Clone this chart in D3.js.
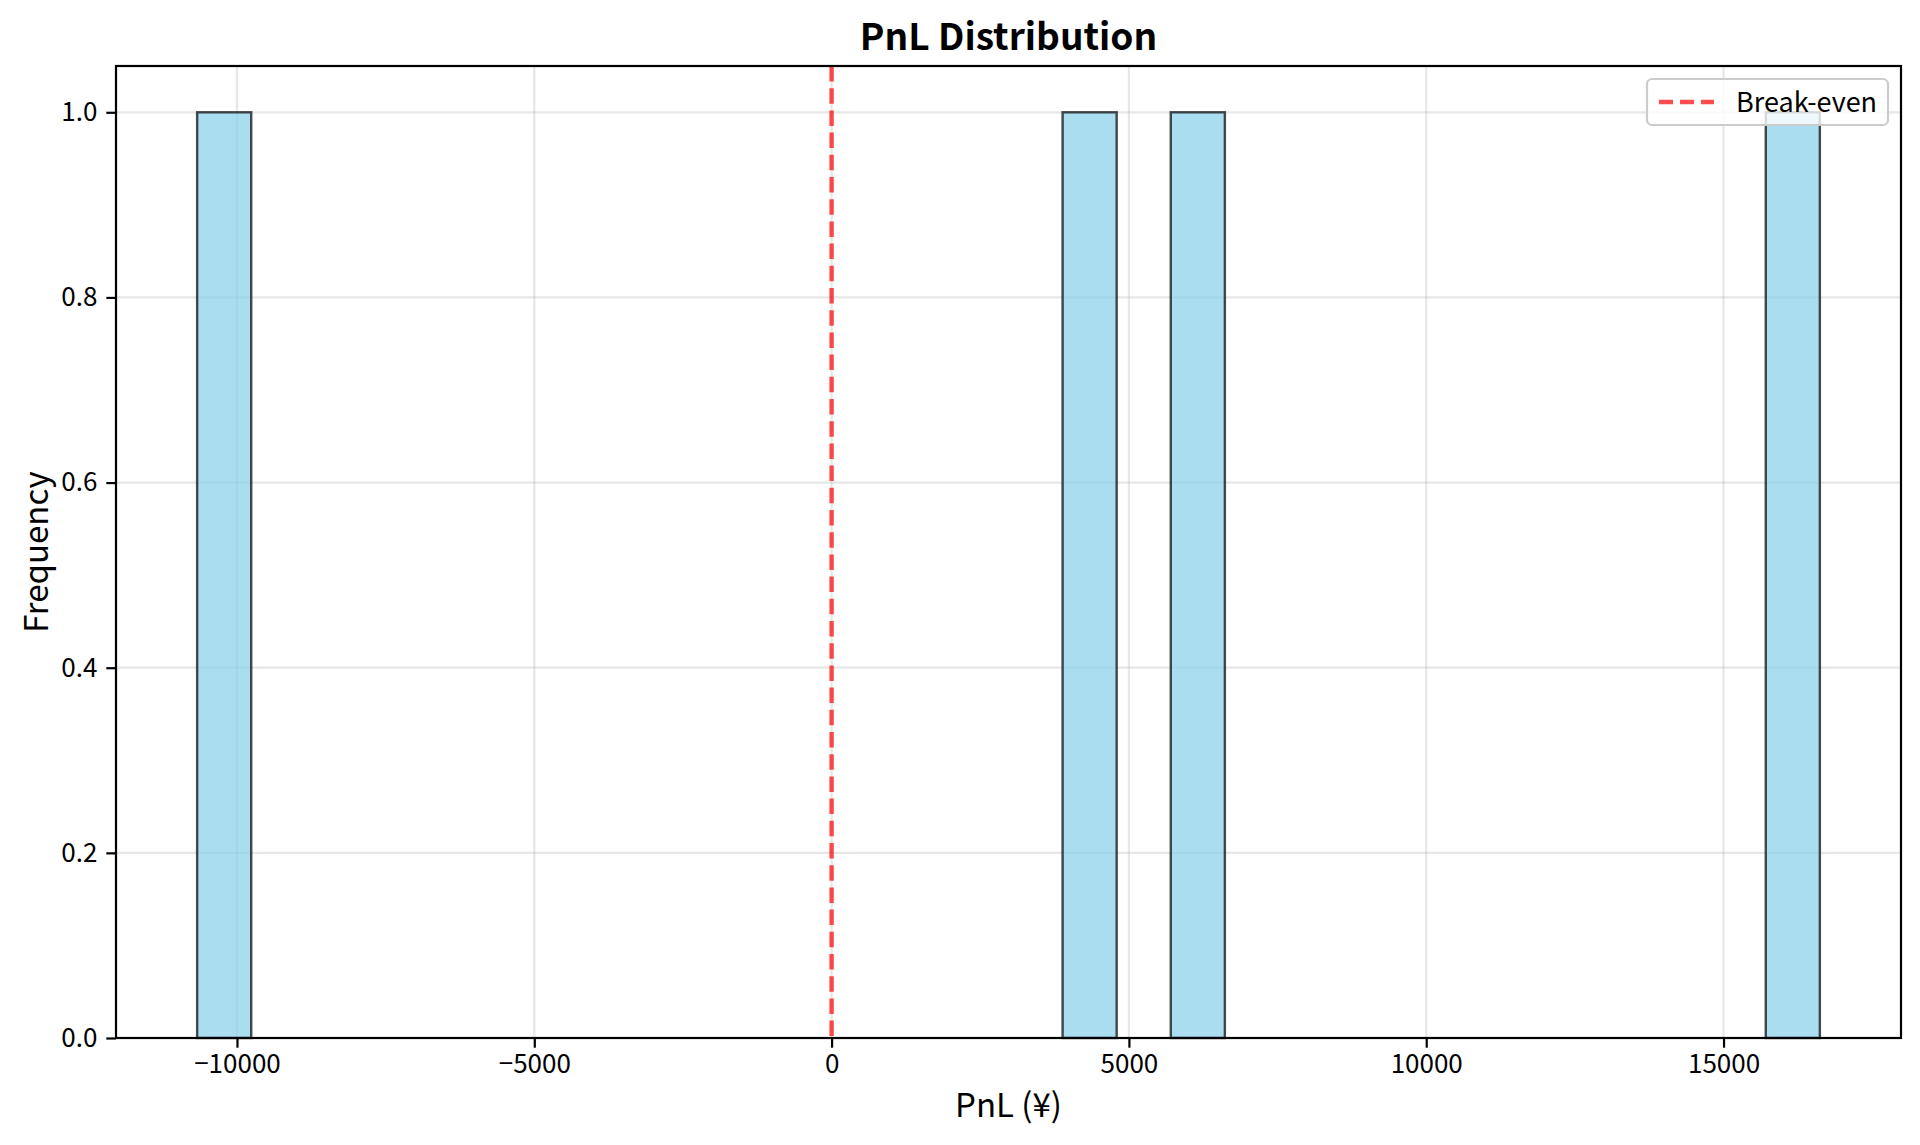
<!DOCTYPE html>
<html>
<head>
<meta charset="utf-8">
<script src="https://cdn.jsdelivr.net/npm/d3@7"></script>
<style>
  html, body { margin: 0; padding: 0; background: #fff; }
  svg { display: block; font-family: "Noto Sans CJK JP", "Noto Sans", sans-serif; }
</style>
</head>
<body>
<svg id="chart" width="1920" height="1145"></svg>
<script>
// ---- data ----
const pnlValues = [-10670, 4350, 6150, 16620];   // individual trade PnL (¥)
const binCount = 30;
const xTickValues = [-10000, -5000, 0, 5000, 10000, 15000];
const xTickLabels = ["\u221210000", "\u22125000", "0", "5000", "10000", "15000"];
const yTickValues = [0.0, 0.2, 0.4, 0.6, 0.8, 1.0];
const yTickLabels = ["0.0", "0.2", "0.4", "0.6", "0.8", "1.0"];
const breakEven = 0;
const titleText = "PnL Distribution";
const xLabelText = "PnL (\u00A5)";
const yLabelText = "Frequency";
const legendLabel = "Break-even";

// ---- layout ----
const plot = { left: 116, right: 1901, top: 66, bottom: 1038 };

const svg = d3.select("#chart");

const [mn, mx] = d3.extent(pnlValues);
const span = mx - mn;
const step = span / binCount;
const thresholds = d3.range(1, binCount).map(i => mn + i * step);
const bins = d3.bin().domain([mn, mx]).thresholds(thresholds)(pnlValues);

const x = d3.scaleLinear()
  .domain([mn - 0.05 * span, mx + 0.05 * span])
  .range([plot.left, plot.right]);
const maxCount = d3.max(bins, b => b.length);
const y = d3.scaleLinear()
  .domain([0, maxCount * 1.05])
  .range([plot.bottom, plot.top]);

// grid
const grid = svg.append("g").attr("stroke", "#b0b0b0").attr("stroke-opacity", 0.3).attr("stroke-width", 2.2);
grid.selectAll("line.vx").data(xTickValues).join("line")
  .attr("x1", d => x(d)).attr("x2", d => x(d))
  .attr("y1", plot.top).attr("y2", plot.bottom);
grid.selectAll("line.hy").data(yTickValues).join("line")
  .attr("x1", plot.left).attr("x2", plot.right)
  .attr("y1", d => y(d)).attr("y2", d => y(d));

// bars
svg.append("g").selectAll("rect").data(bins.filter(b => b.length > 0)).join("rect")
  .attr("x", b => x(b.x0))
  .attr("width", b => x(b.x1) - x(b.x0))
  .attr("y", b => y(b.length))
  .attr("height", b => y(0) - y(b.length))
  .attr("fill", "#87CEEB").attr("fill-opacity", 0.7)
  .attr("stroke", "#000").attr("stroke-opacity", 0.7).attr("stroke-width", 2.4);

// break-even line
svg.append("line")
  .attr("x1", x(breakEven)).attr("x2", x(breakEven))
  .attr("y1", plot.top).attr("y2", plot.bottom)
  .attr("stroke", "#ff0000").attr("stroke-opacity", 0.7)
  .attr("stroke-width", 4.4).attr("stroke-dasharray", "15.5,6.7");

// axes
const xAxis = d3.axisBottom(x).tickValues(xTickValues)
  .tickFormat((d, i) => xTickLabels[i]).tickSize(9.7).tickPadding(7);
const yAxis = d3.axisLeft(y).tickValues(yTickValues)
  .tickFormat((d, i) => yTickLabels[i]).tickSize(9.7).tickPadding(9);

const gx = svg.append("g").attr("transform", `translate(0,${plot.bottom})`).call(xAxis);
const gy = svg.append("g").attr("transform", `translate(${plot.left},0)`).call(yAxis);
[gx, gy].forEach(g => {
  g.select(".domain").remove();
  g.selectAll(".tick line").attr("stroke", "#000").attr("stroke-width", 2.2);
  g.selectAll(".tick text").attr("fill", "#000").attr("font-size", 26)
    .attr("font-family", "'Noto Sans CJK JP', sans-serif");
});

// frame
svg.append("rect")
  .attr("x", plot.left).attr("y", plot.top)
  .attr("width", plot.right - plot.left).attr("height", plot.bottom - plot.top)
  .attr("fill", "none").attr("stroke", "#000").attr("stroke-width", 2.2);

// legend
const lg = svg.append("g");
lg.append("rect")
  .attr("x", 1647).attr("y", 79).attr("width", 241).attr("height", 46)
  .attr("rx", 5).attr("ry", 5)
  .attr("fill", "#fff").attr("fill-opacity", 0.8)
  .attr("stroke", "#cccccc").attr("stroke-width", 2.2);
lg.append("line")
  .attr("x1", 1659).attr("x2", 1714).attr("y1", 102).attr("y2", 102)
  .attr("stroke", "#ff0000").attr("stroke-opacity", 0.7)
  .attr("stroke-width", 4.4).attr("stroke-dasharray", "14,7");
lg.append("text")
  .attr("x", 1736).attr("y", 112)
  .attr("font-size", 27).attr("fill", "#000")
  .text(legendLabel);

// title & labels
svg.append("text")
  .attr("x", (plot.left + plot.right) / 2).attr("y", 50)
  .attr("text-anchor", "middle").attr("font-size", 37).attr("font-weight", "bold")
  .attr("fill", "#000")
  .text(titleText);
svg.append("text")
  .attr("x", (plot.left + plot.right) / 2).attr("y", 1117)
  .attr("text-anchor", "middle").attr("font-size", 33).attr("fill", "#000")
  .text(xLabelText);
svg.append("text")
  .attr("transform", `translate(48,${(plot.top + plot.bottom) / 2}) rotate(-90)`)
  .attr("text-anchor", "middle").attr("font-size", 33).attr("fill", "#000")
  .text(yLabelText);
</script>
</body>
</html>
